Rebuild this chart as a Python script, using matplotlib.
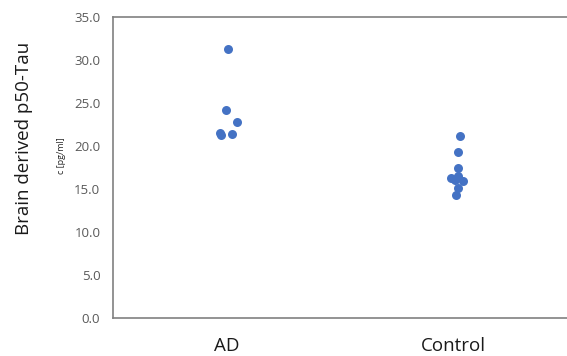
import matplotlib
matplotlib.use('Agg')
import matplotlib.pyplot as plt

# values
categories = ['AD', 'Control']
ad_values = [31.3, 24.2, 22.8, 21.5, 21.3, 21.4]
ad_jitter = [0.005, 0.0, 0.045, -0.03, -0.025, 0.025]
control_values = [21.2, 19.3, 17.4, 16.5, 16.3, 16.1, 15.9, 15.1, 14.3]
control_jitter = [0.03, 0.02, 0.02, 0.02, -0.01, 0.005, 0.04, 0.02, 0.01]
yticks = [0, 5, 10, 15, 20, 25, 30, 35]

plt.rcParams['font.family'] = ['Open Sans', 'DejaVu Sans']

fig = plt.figure(figsize=(5.67, 3.56), dpi=100)
ax = fig.add_axes([0.199, 0.107, 0.801, 0.845])

blue = '#4472C4'
ax.scatter([1 + j for j in ad_jitter], ad_values, s=42, color=blue, zorder=3, linewidths=0)
ax.scatter([2 + j for j in control_jitter], control_values, s=42, color=blue, zorder=3, linewidths=0)

ax.set_xlim(0.5, 2.5)
ax.set_ylim(0, 35)
ax.set_xticks([1, 2])
ax.set_xticklabels(categories, fontsize=13.5, color='#1a1a1a')
ax.set_yticks(yticks)
ax.set_yticklabels(['%.1f' % v for v in yticks], fontsize=9.5, color='#595959')
ax.tick_params(axis='x', length=0, pad=14)
ax.tick_params(axis='y', length=0, pad=9)

for side in ['left', 'top', 'bottom']:
    ax.spines[side].set_color('#808080')
    ax.spines[side].set_linewidth(1.2)
ax.spines['right'].set_visible(False)

fig.text(0.042, 0.612, 'Brain derived p50-Tau', rotation=90, fontsize=13.5,
         color='#1a1a1a', ha='center', va='center')
fig.text(0.109, 0.562, 'c [pg/ml]', rotation=90, fontsize=6.5,
         color='#262626', ha='center', va='center')

fig.savefig('out.png', dpi=100)
